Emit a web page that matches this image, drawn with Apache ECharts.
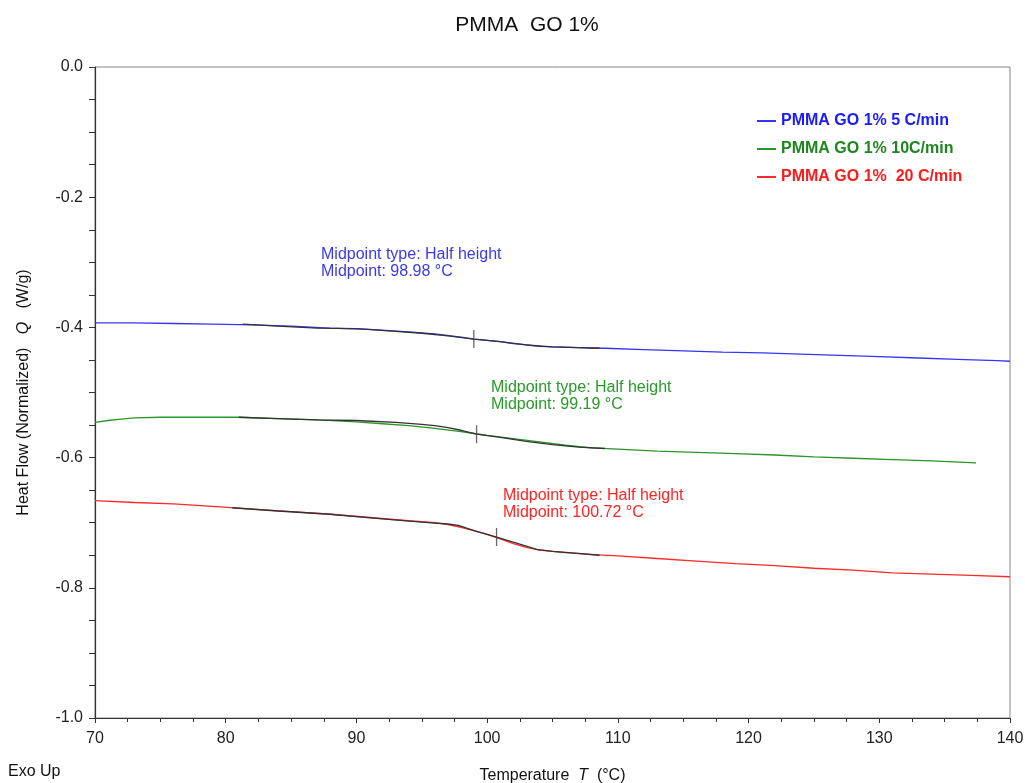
<!DOCTYPE html>
<html>
<head>
<meta charset="utf-8">
<title>PMMA GO 1%</title>
<script src="https://cdn.jsdelivr.net/npm/echarts@6/dist/echarts.min.js"></script>
<style>
  html, body { margin: 0; padding: 0; background: #fff; }
  #chart { width: 1025px; height: 783px; }
</style>
</head>
<body>
<div id="chart"></div>
<script>
  // 5 C/min
  var blueT = [70, 73, 76, 79, 82, 85, 88, 91, 94, 96, 98, 99, 100, 101, 102, 103, 104, 105, 107, 109, 112, 115, 118, 121, 124, 127, 130, 133, 136, 139, 140];
  var blueQ = [-0.393, -0.393, -0.394, -0.395, -0.396, -0.398, -0.401, -0.403, -0.407, -0.410, -0.415, -0.418, -0.420, -0.422, -0.425, -0.427, -0.429, -0.430, -0.431, -0.432, -0.434, -0.436, -0.438, -0.439, -0.441, -0.443, -0.445, -0.447, -0.449, -0.451, -0.452];
  var blueFitT = [81.3, 84, 87, 90, 93, 95, 97, 99, 101, 103, 105, 107, 108.6];
  var blueFitQ = [-0.395, -0.398, -0.401, -0.402, -0.406, -0.409, -0.413, -0.418, -0.422, -0.427, -0.430, -0.431, -0.432];

  // 10 C/min
  var greenT = [70, 71, 72, 73, 75, 78, 81, 84, 87, 90, 92, 94, 96, 98, 99, 100, 102, 104, 106, 108, 110, 113, 116, 119, 122, 125, 128, 131, 134, 137.4];
  var greenQ = [-0.546, -0.543, -0.541, -0.539, -0.538, -0.538, -0.538, -0.540, -0.542, -0.545, -0.548, -0.551, -0.555, -0.560, -0.563, -0.566, -0.571, -0.576, -0.581, -0.585, -0.587, -0.590, -0.592, -0.594, -0.596, -0.599, -0.601, -0.603, -0.605, -0.608];
  var greenFitT = [81, 84, 87, 90, 93, 95, 96, 97, 98, 99.2, 101, 103, 105, 107, 109];
  var greenFitQ = [-0.538, -0.540, -0.542, -0.543, -0.546, -0.549, -0.551, -0.554, -0.558, -0.564, -0.569, -0.575, -0.580, -0.584, -0.586];

  // 20 C/min
  var redT = [70, 73, 76, 79, 82, 85, 88, 91, 94, 96, 97, 98, 99, 100, 101, 102, 103, 104, 105, 106, 108, 110, 113, 116, 119, 122, 125, 128, 131, 134, 137, 140];
  var redQ = [-0.666, -0.669, -0.671, -0.675, -0.679, -0.683, -0.687, -0.692, -0.697, -0.700, -0.703, -0.707, -0.712, -0.718, -0.725, -0.732, -0.738, -0.742, -0.744, -0.746, -0.749, -0.751, -0.755, -0.759, -0.763, -0.766, -0.770, -0.773, -0.777, -0.779, -0.781, -0.783];
  var redFitT = [80.5, 84, 88, 92, 95, 97, 97.8, 99, 100.72, 102, 103.8, 105, 107, 108.6];
  var redFitQ = [-0.677, -0.682, -0.687, -0.694, -0.699, -0.702, -0.704, -0.712, -0.722, -0.730, -0.741, -0.744, -0.747, -0.750];

  // midpoints (half height)
  var midT = [98.98, 99.19, 100.72];
  var midQ = [-0.418, -0.564, -0.722];

  var seriesNames = ['PMMA GO 1% 5 C/min', 'PMMA GO 1% 10C/min', 'PMMA GO 1%  20 C/min'];
  var lineColors = ['#3535ff', '#2a962a', '#ff2a2a'];
  var textColors = ['#1a1aff', '#1d861d', '#ff1a1a'];
  var noteColors = ['#3a3ae8', '#2a9a2a', '#ff2424'];

  function zip (xs, ys) {
    return xs.map(function (x, i) { return [x, ys[i]] })
  }

  var font = 'Liberation Sans, Arial, sans-serif'

  var mainSeries = [[blueT, blueQ], [greenT, greenQ], [redT, redQ]].map(function (d, i) {
    return {
      name: seriesNames[i],
      type: 'line',
      data: zip(d[0], d[1]),
      showSymbol: false,
      lineStyle: { color: lineColors[i], width: 1.3 },
      itemStyle: { color: lineColors[i] },
      z: 2
    }
  })

  var fitSeries = [[blueFitT, blueFitQ], [greenFitT, greenFitQ], [redFitT, redFitQ]].map(function (d) {
    return {
      type: 'line',
      data: zip(d[0], d[1]),
      showSymbol: false,
      lineStyle: { color: '#333', width: 1.3 },
      z: 3
    }
  })

  var midSeries = {
    type: 'scatter',
    data: zip(midT, midQ),
    symbol: 'rect',
    symbolSize: [1.3, 18],
    itemStyle: { color: '#444' },
    z: 4
  }

  var notePos = [[321, 246], [491, 379], [503, 487]]
  var notes = midT.map(function (t, i) {
    return {
      type: 'text',
      left: notePos[i][0],
      top: notePos[i][1],
      style: {
        text: 'Midpoint type: Half height\nMidpoint: ' + t.toFixed(2) + ' °C',
        fill: noteColors[i],
        font: '16px ' + font,
        lineHeight: 17
      }
    }
  })

  var option = {
    backgroundColor: '#fff',
    animation: false,
    title: {
      text: 'PMMA  GO 1%',
      left: 522,
      textAlign: 'center',
      top: 10,
      textStyle: { fontSize: 21, fontWeight: 'normal', color: '#111', fontFamily: font }
    },
    legend: {
      orient: 'vertical',
      left: 752,
      top: 108,
      itemWidth: 19,
      itemHeight: 2,
      itemGap: 12,
      icon: 'rect',
      textStyle: { fontSize: 16, fontWeight: 'bold', fontFamily: font },
      data: seriesNames.map(function (n, i) {
        return { name: n, textStyle: { color: textColors[i] } }
      })
    },
    grid: {
      left: 95, right: 15, top: 67, bottom: 65,
      outerBoundsMode: 'none',
      show: true, borderColor: '#888', borderWidth: 1
    },
    xAxis: {
      type: 'value',
      min: 70, max: 140, interval: 10,
      name: 'Temperature  {i|T}  (°C)',
      nameLocation: 'middle',
      nameGap: 50,
      nameTextStyle: {
        fontSize: 16, color: '#111', fontFamily: font,
        rich: { i: { fontStyle: 'italic', fontSize: 16, fontFamily: font } }
      },
      axisLine: { onZero: false, lineStyle: { color: '#333', width: 1.2 } },
      axisTick: { inside: false, length: 5, lineStyle: { color: '#333' } },
      minorTick: { show: true, splitNumber: 4, length: 4, lineStyle: { color: '#333' } },
      axisLabel: { fontSize: 16, color: '#222', margin: 13, fontFamily: font },
      splitLine: { show: false }
    },
    yAxis: {
      type: 'value',
      min: -1, max: 0, interval: 0.2,
      name: 'Heat Flow (Normalized)   {i|Q}   (W/g)',
      nameLocation: 'middle',
      nameGap: 63,
      nameRotate: 90,
      nameTextStyle: {
        fontSize: 16, color: '#111', fontFamily: font,
        rich: { i: { fontStyle: 'italic', fontSize: 16, fontFamily: font } }
      },
      axisLine: { show: true, onZero: false, lineStyle: { color: '#333', width: 1.2 } },
      axisTick: { show: true, inside: false, length: 6, lineStyle: { color: '#333' } },
      minorTick: { show: true, splitNumber: 4, length: 6, lineStyle: { color: '#333' } },
      axisLabel: {
        fontSize: 16, color: '#222', margin: 12, fontFamily: font,
        formatter: function (v) { return v.toFixed(1) }
      },
      splitLine: { show: false }
    },
    graphic: notes.concat([{
      type: 'text',
      left: 8,
      top: 764,
      style: { text: 'Exo Up', fill: '#111', font: '16px ' + font }
    }]),
    series: mainSeries.concat(fitSeries, [midSeries])
  }

  var chart = echarts.init(document.getElementById('chart'))
  chart.setOption(option)
  window.addEventListener('resize', function () {
    chart.resize()
  })
</script>
</body>
</html>
